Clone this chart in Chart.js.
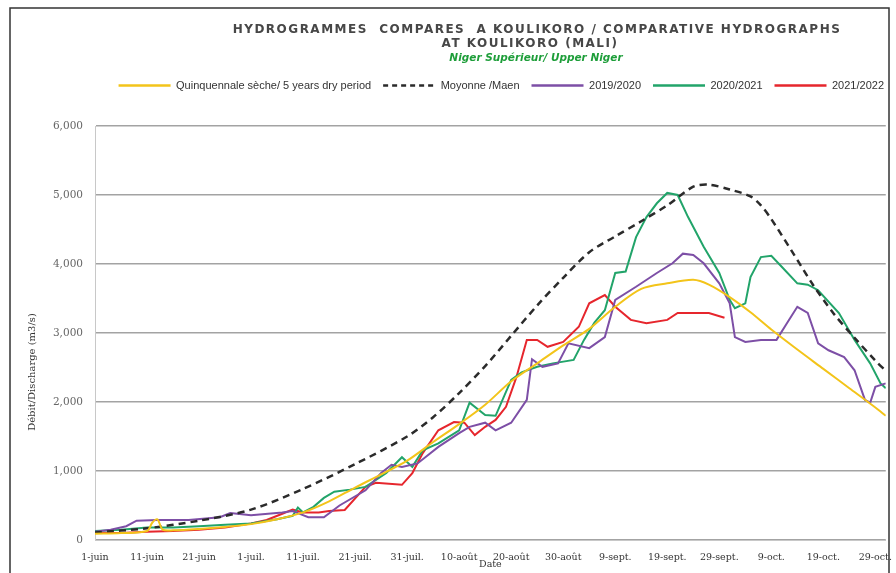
<!DOCTYPE html>
<html>
<head>
<meta charset="utf-8">
<script src="https://cdn.jsdelivr.net/npm/chart.js@4.4.0/dist/chart.umd.min.js"></script>
<style>
  body { margin: 0; background: #fff; }
  #wrap { width: 896px; height: 573px; }
</style>
</head>
<body>
<div id="wrap"><canvas id="hydro" width="896" height="573"></canvas></div>
<script>
// ---------- Data ----------
const titleLines = [
  "HYDROGRAMMES  COMPARES  A KOULIKORO / COMPARATIVE HYDROGRAPHS",
  "AT KOULIKORO (MALI)",
  "Niger Supérieur/ Upper Niger",
];
const yAxisTitle = "Débit/Discharge (m3/s)";
const xAxisTitle = "Date";
const tickLabels = ["1-juin", "11-juin", "21-juin", "1-juil.", "11-juil.", "21-juil.", "31-juil.",
  "10-août", "20-août", "30-août", "9-sept.", "19-sept.", "29-sept.", "9-oct.", "19-oct.", "29-oct."];

// day 0 = 1 June, day 152 = 31 Oct
const dryDays = [0, 5, 10, 11, 12, 13, 15, 20, 25, 30, 35, 40, 45, 50, 55, 60, 65, 70, 75, 80, 85, 90,
  95, 100, 105, 110, 115, 118, 122, 126, 130, 135, 140, 145, 150, 152];
const dryVals = [90, 100, 130, 250, 300, 150, 140, 160, 190, 230, 300, 400, 560, 760, 950, 1150, 1420,
  1680, 1960, 2300, 2560, 2820, 3060, 3380, 3640, 3720, 3770, 3700, 3520, 3300, 3050, 2760, 2480,
  2200, 1920, 1800];

const meanDays = [0, 10, 20, 30, 40, 50, 60, 65, 70, 75, 80, 85, 90, 95, 100, 105, 110, 115, 118, 122,
  126, 128, 130, 134, 138, 142, 146, 150, 152];
const meanVals = [110, 170, 280, 440, 740, 1100, 1500, 1780, 2130, 2520, 2960, 3400, 3800, 4170, 4400,
  4620, 4850, 5120, 5150, 5080, 4980, 4850, 4650, 4180, 3700, 3280, 2930, 2600, 2450];

const y2019Days = [0, 3, 6, 8, 12, 18, 24, 26, 30, 36, 38, 39, 41, 44, 47, 52, 55, 57, 59, 62, 66, 70,
  72, 75, 77, 80, 83, 84, 86, 89, 91, 95, 98, 100, 104, 108, 111, 113, 115, 117, 120, 122, 123, 125,
  128, 131, 133, 135, 137, 139, 141, 144, 146, 148, 149, 150, 152];
const y2019Vals = [120, 150, 200, 280, 290, 290, 330, 390, 360, 400, 420, 390, 330, 330, 500, 720, 970,
  1090, 1060, 1110, 1350, 1550, 1640, 1700, 1590, 1700, 2030, 2620, 2510, 2560, 2850, 2780, 2940, 3480,
  3670, 3870, 4010, 4150, 4130, 4010, 3720, 3430, 2940, 2870, 2900, 2900, 3140, 3380, 3290, 2850, 2750,
  2650, 2460, 2030, 1990, 2220, 2270];

const y2020Days = [0, 5, 10, 15, 20, 25, 30, 35, 38, 39, 40, 42, 44, 46, 49, 52, 56, 59, 61, 63, 66, 70,
  72, 75, 77, 80, 82, 85, 88, 92, 94, 96, 98, 100, 102, 104, 106, 108, 110, 112, 114, 117, 120, 122,
  123, 125, 126, 128, 130, 132, 135, 137, 139, 143, 146, 149, 151, 152];
const y2020Vals = [130, 150, 180, 180, 200, 220, 240, 300, 350, 470, 400, 480, 610, 700, 730, 770, 970,
  1200, 1060, 1300, 1400, 1590, 1990, 1810, 1800, 2320, 2430, 2510, 2560, 2610, 2900, 3150, 3330, 3870,
  3890, 4390, 4680, 4880, 5030, 5000, 4680, 4250, 3870, 3480, 3360, 3430, 3810, 4100, 4120, 3960, 3720,
  3700, 3620, 3290, 2900, 2560, 2270, 2200];

const y2021Days = [0, 5, 10, 15, 20, 25, 30, 33, 36, 38, 40, 43, 45, 48, 52, 54, 59, 61, 63, 66, 69, 71,
  73, 75, 77, 79, 81, 83, 85, 87, 90, 93, 95, 98, 100, 103, 106, 110, 112, 118, 121];
const y2021Vals = [100, 100, 120, 130, 150, 180, 240, 290, 380, 440, 400, 400, 420, 435, 770, 830, 800,
  970, 1260, 1590, 1710, 1700, 1520, 1640, 1740, 1930, 2360, 2900, 2900, 2800, 2870, 3090, 3430, 3550,
  3380, 3190, 3140, 3190, 3290, 3290, 3220];

// ---------- Helpers ----------
const pts = (days, vals) => days.map((d, i) => ({ x: d, y: vals[i] }));

function series(label, days, vals, color, extra = {}) {
  return {
    label,
    data: pts(days, vals),
    borderColor: color,
    backgroundColor: color,
    borderWidth: 2,
    pointRadius: 0,
    tension: 0,
    fill: false,
    ...extra,
  };
}

// frame, titles and y-axis caption drawn on the canvas
const decorPlugin = {
  id: "decor",
  afterInit(chart) {
    // leave room under the legend row, as in the original
    const legend = chart.legend;
    const fit = legend.fit;
    legend.fit = function () {
      fit.call(this);
      this.height += 25;
    };
  },
  beforeDraw(chart) {
    const ctx = chart.ctx;
    ctx.save();
    ctx.fillStyle = "#fff";
    ctx.fillRect(0, 0, chart.width, chart.height);
    ctx.strokeStyle = "#333";
    ctx.lineWidth = 1.5;
    ctx.strokeRect(10, 8, 879, 620);
    ctx.restore();
  },
  afterDraw(chart) {
    const ctx = chart.ctx;
    ctx.save();
    ctx.textAlign = "center";
    ctx.textBaseline = "middle";
    ctx.fillStyle = "#474747";
    ctx.font = 'bold 12px "DejaVu Sans"';
    ctx.letterSpacing = "1.5px";
    ctx.fillText(titleLines[0], 537, 30);
    ctx.fillText(titleLines[1], 530, 44);
    ctx.letterSpacing = "0px";
    ctx.fillStyle = "#1e9e3a";
    ctx.font = 'italic bold 10.5px "DejaVu Sans"';
    ctx.fillText(titleLines[2], 536, 58);

    ctx.translate(32, 372);
    ctx.rotate(-Math.PI / 2);
    ctx.fillStyle = "#333";
    ctx.font = '10px "DejaVu Serif"';
    ctx.fillText(yAxisTitle, 0, 0);
    ctx.restore();
  },
};

// ---------- Chart ----------
const ctx = document.getElementById("hydro").getContext("2d");
new Chart(ctx, {
  type: "line",
  data: {
    datasets: [
      series("Quinquennale sèche/ 5 years dry period", dryDays, dryVals, "#f3c41a", { tension: 0.3 }),
      series("Moyonne /Maen", meanDays, meanVals, "#2b2b2b", { borderDash: [7, 5], borderWidth: 2.5, tension: 0.3 }),
      series("2019/2020", y2019Days, y2019Vals, "#7d4fa6"),
      series("2020/2021", y2020Days, y2020Vals, "#22a46a"),
      series("2021/2022", y2021Days, y2021Vals, "#e6262d"),
    ],
  },
  options: {
    responsive: false,
    animation: false,
    layout: { padding: { top: 68, left: 20, right: 0, bottom: 0 } },
    plugins: {
      title: { display: false },
      tooltip: { enabled: false },
      legend: {
        position: "top",
        align: "end",
        labels: {
          usePointStyle: true,
          pointStyle: "line",
          pointStyleWidth: 52,
          padding: 12,
          color: "#333",
          font: { family: "Liberation Sans", size: 11 },
          generateLabels: (chart) =>
            Chart.defaults.plugins.legend.labels.generateLabels(chart).map((item) => {
              const ds = chart.data.datasets[item.datasetIndex];
              return { ...item, lineDash: ds.borderDash ? [5, 4] : [], lineWidth: 2.5, strokeStyle: ds.borderColor };
            }),
        },
      },
    },
    scales: {
      x: {
        type: "linear",
        min: 0,
        max: 152,
        grid: { display: false },
        border: { display: true, color: "#c8c8c8", width: 1 },
        ticks: {
          stepSize: 10,
          includeBounds: false,
          autoSkip: false,
          maxRotation: 0,
          padding: 4,
          color: "#333",
          font: { family: "DejaVu Serif", size: 9.5 },
          callback: (v) => tickLabels[v / 10] ?? "",
        },
        title: {
          display: true,
          text: xAxisTitle,
          color: "#333",
          padding: { top: 0, bottom: 3 },
          font: { family: "DejaVu Serif", size: 9.5 },
        },
        afterFit: (s) => { s.height = 33; },
      },
      y: {
        min: 0,
        max: 6000,
        grid: { color: "#a3a3a3", lineWidth: 1.5, drawTicks: false },
        border: { display: true, color: "#c8c8c8", width: 1 },
        ticks: {
          stepSize: 1000,
          padding: 12,
          color: "#666",
          font: { family: "DejaVu Serif", size: 10.5 },
          callback: (v) => v.toLocaleString("en-US"),
        },
        afterFit: (s) => { s.width = 75; },
      },
      y2: {
        position: "right",
        display: true,
        grid: { display: false },
        border: { display: false },
        ticks: { display: false },
        afterFit: (s) => { s.width = 4; },
      },
    },
  },
  plugins: [decorPlugin],
});
</script>
</body>
</html>
